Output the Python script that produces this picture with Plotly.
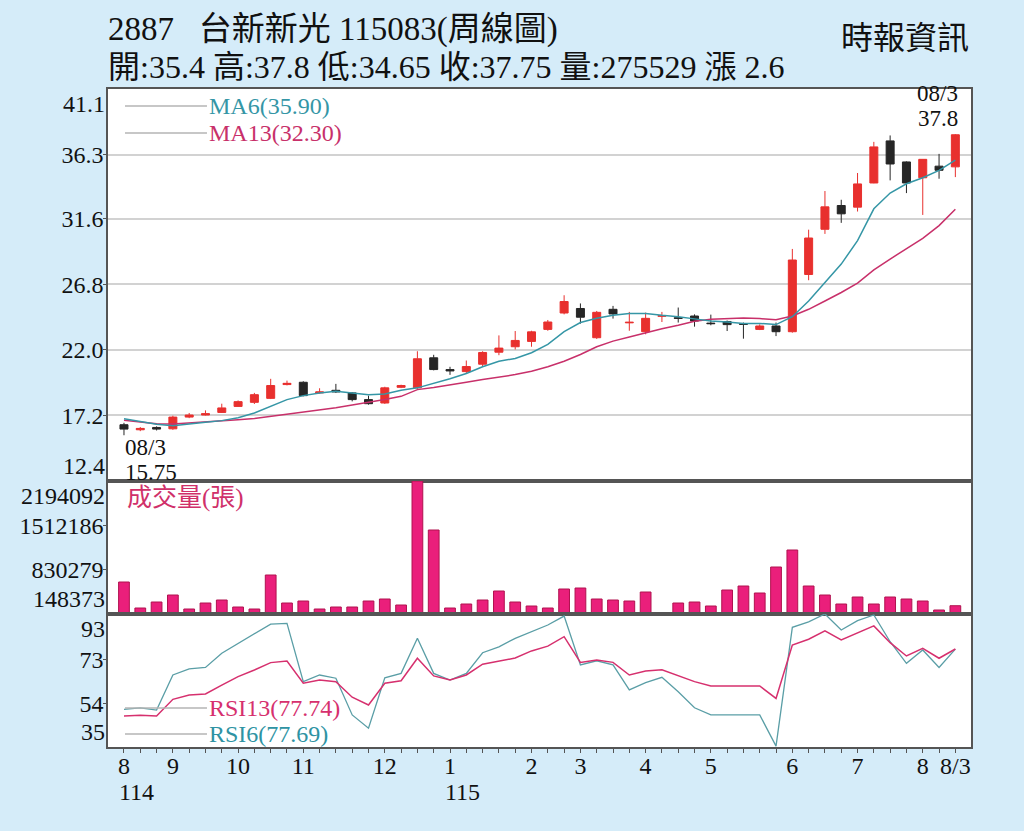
import plotly.graph_objects as go
from plotly.subplots import make_subplots

# ---------------- data (weekly, 114/08 .. 115/08/3) ----------------
opens = [16.52, 16.15, 16.32, 16.22, 17.08, 17.23, 17.42, 17.86, 18.16, 18.45,
         19.46, 19.63, 18.85, 19.04, 18.85, 18.36, 18.11, 19.26, 19.22, 21.42,
         20.56, 20.41, 20.95, 21.83, 22.23, 22.62, 23.50, 24.70, 25.03, 22.89,
         24.97, 23.98, 23.33, 24.46, 24.35, 24.48, 23.96, 24.07, 23.92, 23.50,
         23.75, 23.33, 27.52, 30.83, 32.57, 32.45, 34.22, 37.30, 35.76, 34.60,
         35.45, 35.40]
highs = [16.66, 16.35, 16.40, 17.18, 17.38, 17.57, 18.06, 18.30, 18.85, 19.88,
         19.75, 19.70, 19.19, 19.51, 18.90, 18.65, 19.30, 19.45, 21.90, 21.64,
         20.76, 21.22, 21.90, 23.06, 23.38, 23.40, 24.19, 26.00, 25.40, 24.85,
         25.22, 24.78, 24.73, 24.78, 25.10, 24.60, 24.58, 24.15, 24.00, 23.87,
         24.00, 29.39, 30.80, 33.63, 32.99, 34.95, 37.23, 37.70, 35.80, 35.95,
         36.35, 37.80]
lows = [15.75, 16.05, 16.10, 16.15, 17.00, 17.20, 17.40, 17.85, 18.04, 18.40,
        19.40, 18.60, 18.80, 18.85, 18.23, 17.99, 18.05, 19.20, 19.15, 20.50,
        20.17, 20.30, 20.78, 21.61, 22.03, 22.23, 23.40, 24.60, 23.92, 22.80,
        24.29, 23.40, 23.14, 24.04, 24.00, 23.70, 23.80, 23.38, 22.82, 23.45,
        23.01, 23.26, 27.10, 30.49, 31.30, 32.13, 34.20, 34.41, 33.48, 31.88,
        34.53, 34.65]
closes = [16.20, 16.25, 16.20, 17.08, 17.23, 17.33, 17.75, 18.21, 18.72, 19.39,
          19.55, 18.65, 18.92, 18.92, 18.36, 18.06, 19.22, 19.39, 21.35, 20.56,
          20.46, 20.78, 21.81, 22.13, 22.69, 23.32, 24.04, 25.54, 24.39, 24.75,
          24.63, 24.02, 24.31, 24.50, 24.31, 24.11, 23.92, 23.85, 23.87, 23.75,
          23.33, 28.58, 30.19, 32.47, 31.96, 34.15, 36.86, 35.61, 34.22, 35.95,
          35.15, 37.75]
volumes = [640600, 240700, 332900, 440600, 225300, 317600, 363700, 256000, 225300, 748200,
           317600, 348300, 225300, 256000, 256000, 348300, 379100, 286800, 2194092, 1440400,
           240700, 302200, 363700, 502100, 332900, 271400, 240700, 532900, 548300, 379100,
           363700, 348300, 486800, 148373, 317600, 332900, 271400, 517500, 579000, 471400,
           871300, 1132800, 579000, 440600, 302200, 409900, 302200, 409900, 379100, 348300,
           209900, 275529]
ma6 = [16.95, 16.75, 16.55, 16.45, 16.55, 16.70, 16.82, 17.03, 17.38, 17.86,
       18.36, 18.65, 18.85, 18.97, 18.85, 18.72, 18.77, 19.05, 19.22, 19.53,
       19.88, 20.27, 20.76, 21.17, 21.37, 21.79, 22.40, 23.33, 24.00, 24.31,
       24.53, 24.66, 24.66, 24.53, 24.43, 24.27, 24.11, 24.04, 23.94, 23.94,
       23.85, 24.43, 25.58, 26.93, 28.28, 30.00, 32.33, 33.48, 34.16, 34.60,
       35.14, 35.90]
ma13 = [16.85, 16.70, 16.60, 16.57, 16.64, 16.72, 16.81, 16.89, 16.98, 17.13,
        17.33, 17.47, 17.62, 17.77, 17.97, 18.16, 18.36, 18.60, 19.09, 19.24,
        19.46, 19.63, 19.83, 20.02, 20.19, 20.44, 20.76, 21.17, 21.66, 22.23,
        22.64, 22.94, 23.26, 23.55, 23.80, 24.10, 24.25, 24.30, 24.33, 24.29,
        24.20, 24.48, 24.97, 25.58, 26.20, 26.89, 27.86, 28.65, 29.39, 30.17,
        31.10, 32.30]
rsi6 = [51.4, 52.1, 51.1, 66.4, 69.1, 69.7, 75.9, 80.2, 84.6, 88.6,
        88.9, 63.5, 66.4, 65.0, 49.0, 43.2, 65.2, 67.1, 82.4, 67.1,
        64.2, 67.1, 76.1, 78.7, 82.4, 85.3, 88.2, 92.1, 70.8, 72.6,
        70.8, 59.9, 63.1, 65.4, 59.1, 52.1, 49.0, 49.0, 49.0, 49.0,
        35.4, 87.2, 89.6, 93.0, 86.0, 90.1, 92.6, 80.9, 71.5, 77.3,
        69.7, 77.69]
rsi13 = [48.5, 48.8, 48.5, 55.8, 57.7, 58.1, 62.0, 65.7, 68.6, 71.8,
         72.5, 62.8, 64.2, 63.5, 56.7, 53.3, 62.8, 63.9, 73.7, 66.0,
         64.2, 66.4, 71.1, 72.6, 73.8, 76.9, 79.0, 83.1, 71.9, 72.9,
         71.9, 66.4, 68.1, 68.7, 66.0, 63.5, 61.6, 61.6, 61.6, 61.6,
         56.2, 79.5, 82.0, 85.7, 81.7, 84.9, 87.8, 80.5, 74.7, 78.0,
         73.7, 77.74]

month_pos = [0, 3, 7, 11, 16, 20, 25, 28, 32, 36, 41, 45, 49, 51]
month_text = ["8", "9", "10", "11", "12", "1", "2", "3", "4", "5", "6", "7", "8", "8/3"]
year_pos = [0, 20]
year_text = ["114", "115"]

price_ticks = [12.4, 17.2, 22.0, 26.8, 31.6, 36.3, 41.1]
vol_ticks = [148373, 830279, 1512186, 2194092]
rsi_ticks = [35, 54, 73, 93]

title1 = "2887\u00a0\u00a0\u00a0台新新光 115083(周線圖)"
title2 = "開:35.4 高:37.8 低:34.65 收:37.75 量:275529 漲 2.6"
source = "時報資訊"

# ---------------- style ----------------
BG = "#d5ecf9"
RED = "#e8302e"
BLK = "#262626"
PINK = "#ea1f7b"
TEAL = "#3596a6"
MAG = "#c8306a"
AXC = "#555555"
FONT = "Liberation Serif, Noto Sans CJK TC, serif"

x = list(range(len(closes)))

fig = make_subplots(rows=3, cols=1, shared_xaxes=True, vertical_spacing=0,
                    row_heights=[392, 133, 133])

fig.add_trace(go.Candlestick(
    x=x, open=opens, high=highs, low=lows, close=closes,
    increasing=dict(line=dict(color=RED, width=1), fillcolor=RED),
    decreasing=dict(line=dict(color=BLK, width=1), fillcolor=BLK),
    whiskerwidth=0, showlegend=False, hoverinfo="skip"), row=1, col=1)
fig.add_trace(go.Scatter(x=x, y=ma13, mode="lines", line=dict(color=MAG, width=1.5),
                         showlegend=False, hoverinfo="skip"), row=1, col=1)
fig.add_trace(go.Scatter(x=x, y=ma6, mode="lines", line=dict(color=TEAL, width=1.5),
                         showlegend=False, hoverinfo="skip"), row=1, col=1)

fig.add_trace(go.Bar(x=x, y=volumes, width=0.66,
                     marker=dict(color=PINK, line=dict(color="#b0124f", width=1)),
                     showlegend=False, hoverinfo="skip"), row=2, col=1)

fig.add_trace(go.Scatter(x=x, y=rsi6, mode="lines", line=dict(color="#5a9ea6", width=1.3),
                         showlegend=False, hoverinfo="skip"), row=3, col=1)
fig.add_trace(go.Scatter(x=x, y=rsi13, mode="lines", line=dict(color="#d6306e", width=1.5),
                         showlegend=False, hoverinfo="skip"), row=3, col=1)

xr = [-0.98, 51.96]
axis_common = dict(showline=True, linecolor=AXC, linewidth=1.5, mirror=True, zeroline=False)
for i in (1, 2, 3):
    fig.update_xaxes(range=xr, showgrid=False, rangeslider_visible=False,
                     **axis_common, row=i, col=1)
fig.update_xaxes(showticklabels=False, ticks="", row=1, col=1)
fig.update_xaxes(showticklabels=False, ticks="", row=2, col=1)
tick_map = dict(zip(month_pos, month_text))
fig.update_xaxes(tickmode="array", tickvals=x, ticktext=[tick_map.get(i, "") for i in x],
                 ticks="outside", ticklen=4, tickcolor=AXC, tickwidth=1,
                 ticklabelstandoff=-8,
                 tickfont=dict(family=FONT, size=24, color="#111"), row=3, col=1)

tfont = dict(family=FONT, size=24, color="#111")
ycommon = dict(ticks="outside", ticklen=3, tickcolor=AXC, tickfont=tfont, ticklabelstandoff=-5)
fig.update_yaxes(range=[price_ticks[0], price_ticks[-1]], tickmode="array",
                 tickvals=price_ticks[1:-1], ticktext=[f"{v:.1f}" for v in price_ticks[1:-1]],
                 showgrid=True, gridcolor="#d2d2d2", gridwidth=2,
                 **ycommon, **axis_common, row=1, col=1)
fig.update_yaxes(range=[vol_ticks[0], vol_ticks[-1]], tickmode="array",
                 tickvals=vol_ticks[1:-1], ticktext=[str(v) for v in vol_ticks[1:-1]],
                 showgrid=False, **ycommon, **axis_common, row=2, col=1)
fig.update_yaxes(range=[rsi_ticks[0], rsi_ticks[-1]], tickmode="array",
                 tickvals=rsi_ticks[1:-1], ticktext=[str(v) for v in rsi_ticks[1:-1]],
                 showgrid=False, **ycommon, **axis_common, row=3, col=1)

ann = []
# edge axis labels (kept inside their panels)
for yref, lo, hi, fmt in (("y", price_ticks[0], price_ticks[-1], "{:.1f}"),
                          ("y2", vol_ticks[0], vol_ticks[-1], "{}"),
                          ("y3", rsi_ticks[0], rsi_ticks[-1], "{}")):
    ann.append(dict(xref="paper", yref=yref, x=0, y=hi, text=fmt.format(hi),
                    xanchor="right", yanchor="top", xshift=-1, showarrow=False, font=tfont))
    ann.append(dict(xref="paper", yref=yref, x=0, y=lo, text=fmt.format(lo),
                    xanchor="right", yanchor="bottom", xshift=-1, showarrow=False, font=tfont))

# year labels
for p, t in zip(year_pos, year_text):
    ann.append(dict(xref="x3", yref="paper", x=p, y=-0.068, text=t, xanchor="left",
                    xshift=-7, yanchor="middle", showarrow=False, font=tfont))

# low / high markers
imin = lows.index(min(lows))
imax = len(highs) - 1
mfont = dict(family=FONT, size=23, color="#111")
ann += [
    dict(xref="x", yref="y", x=imin, y=lows[imin], text="08/3", xanchor="left",
         yanchor="top", yshift=1, showarrow=False, font=mfont, borderpad=0),
    dict(xref="x", yref="y", x=imin, y=lows[imin], text=f"{lows[imin]:.2f}", xanchor="left",
         yanchor="top", yshift=-24, showarrow=False, font=mfont, borderpad=0),
    dict(xref="x", yref="y", x=imax, y=highs[imax], text=f"{highs[imax]:.1f}", xanchor="right",
         yanchor="bottom", yshift=2, xshift=4, showarrow=False, font=mfont, borderpad=0),
    dict(xref="x", yref="y", x=imax, y=highs[imax], text="08/3", xanchor="right",
         yanchor="bottom", yshift=27, xshift=4, showarrow=False, font=mfont, borderpad=0),
]

# panel legends
leg_x0, leg_x1 = 0.0197, 0.1147
legends = [
    (0.9742, f"MA6({ma6[-1]:.2f})", TEAL),
    (0.9331, f"MA13({ma13[-1]:.2f})", MAG),
    (0.0593, f"RSI13({rsi13[-1]:.2f})", "#d6306e"),
    (0.0198, f"RSI6({rsi6[-1]:.2f})", "#2e93a3"),
]
shapes = []
for yy, txt, col in legends:
    shapes.append(dict(type="line", xref="paper", yref="paper", x0=leg_x0, x1=leg_x1,
                       y0=yy, y1=yy, line=dict(color="#b5b5b5", width=1.5)))
    ann.append(dict(xref="paper", yref="paper", x=leg_x1, y=yy, text=txt, xanchor="left",
                    yanchor="middle", showarrow=False, font=dict(family=FONT, size=24, color=col)))
ann.append(dict(xref="paper", yref="paper", x=0.0197, y=0.3784, text="成交量(張)",
                xanchor="left", yanchor="middle", showarrow=False,
                font=dict(family=FONT, size=25, color="#d0306a")))

# titles
ann += [
    dict(xref="paper", yref="paper", x=0, y=1.0897, text=title1, xanchor="left",
         yanchor="middle", xshift=-2, showarrow=False, font=dict(family=FONT, size=33, color="#111")),
    dict(xref="paper", yref="paper", x=0, y=1.0334, text=title2, xanchor="left",
         yanchor="middle", xshift=-2, showarrow=False, font=dict(family=FONT, size=32, color="#111")),
    dict(xref="paper", yref="paper", x=1, y=1.0775, text=source, xanchor="right",
         yanchor="middle", showarrow=False, font=dict(family=FONT, size=32, color="#111")),
]

fig.update_layout(
    width=1024, height=831,
    margin=dict(l=108, r=53, t=89, b=84),
    paper_bgcolor=BG, plot_bgcolor="white",
    font=dict(family=FONT, color="#111"),
    showlegend=False, hovermode=False, bargap=0.3,
    annotations=ann, shapes=shapes,
)

post = ("document.body.style.margin='0';document.body.style.padding='0';"
        "document.body.style.background='" + BG + "';"
        "document.documentElement.style.overflow='hidden';")
fig.write_html("out.html", config={"displayModeBar": False}, post_script=post)
